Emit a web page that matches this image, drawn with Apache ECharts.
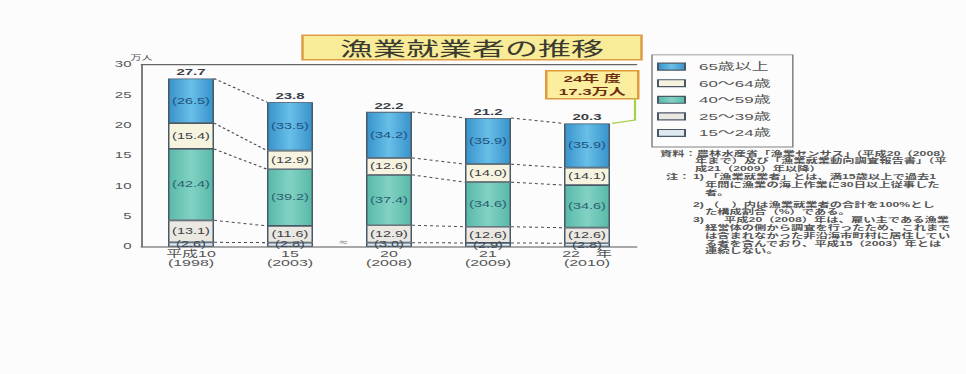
<!DOCTYPE html>
<html>
<head>
<meta charset="utf-8">
<script src="https://cdn.jsdelivr.net/npm/echarts@6/dist/echarts.min.js"></script>
<style>
  html, body { margin: 0; padding: 0; background: #fcfcfc; overflow: hidden; }
  #frame { width: 966px; height: 374px; overflow: hidden; }
  /* the figure is laid out on a taller canvas and compressed vertically */
  #chart { width: 966px; height: 654px; transform: scaleY(0.57187); transform-origin: 0 0; }
</style>
</head>
<body>
<div id="frame"><div id="chart"></div></div>
<script>
// 漁業就業者数（万人）
const years = ['平成10\n(1998)', '15\n(2003)', '20\n(2008)', '21\n(2009)', '22　年\n(2010)'];
const totals = [27.7, 23.8, 22.2, 21.2, 20.3];

// 年齢階層別構成割合（%）
const ageGroups = ['15～24歳', '25～39歳', '40～59歳', '60～64歳', '65歳以上'];
const share15to24 = [2.6, 2.8, 3.0, 2.9, 2.8];
const share25to39 = [13.1, 11.6, 12.9, 12.6, 12.6];
const share40to59 = [42.4, 39.2, 37.4, 34.6, 34.6];
const share60to64 = [15.4, 12.9, 12.6, 14.0, 14.1];
const share65plus = [26.5, 33.5, 34.2, 35.9, 35.9];

// y axis ticks
const yMin = 0;
const yMax = 30;
const yStep = 5;

// 平成15年と20年の間は調査方法が異なるため連続しない
const breakAfter = 1;

// 24年度の値
const forecastLabel = '24年 度';
const forecastValue = 17.3;

const noteLines = [
  '資料：農林水産省「漁業センサス」（平成20（2008）',
  '年まで）及び「漁業就業動向調査報告書」（平',
  '成21（2009）年以降）',
  '注：', '1)', '「漁業就業者」とは、満15歳以上で過去1',
  '年間に漁業の海上作業に30日以上従事した',
  '者。',
  '2)', '（　）内は漁業就業者の合計を100%とし',
  'た構成割合（%）である。',
  '3)', '平成20（2008）年は、雇い主である漁業',
  '経営体の側から調査を行ったため、これまで',
  'は含まれなかった非沿海市町村に居住してい',
  'る者を含んでおり、平成15（2003）年とは',
  '連続しない。'
];

const SY = 1.75;            // vertical stretch of the drawing surface
const HALF_BAR = 23;
const FONT = "'Liberation Sans', 'Noto Sans CJK JP', sans-serif";
const JP = "'Noto Sans CJK JP', sans-serif";

const shares = [share15to24, share25to39, share40to59, share60to64, share65plus];

const fills = [
  '#dfe9f1',
  '#ebe8e2',
  new echarts.graphic.LinearGradient(0, 0, 1, 0, [
    { offset: 0, color: '#58b9a8' }, { offset: 0.5, color: '#82d2c3' }, { offset: 1, color: '#58b9a8' }
  ]),
  '#f6f4df',
  new echarts.graphic.LinearGradient(0, 0, 1, 0, [
    { offset: 0, color: '#3893cc' }, { offset: 0.5, color: '#68bfe7' }, { offset: 1, color: '#3893cc' }
  ])
];
const labelColors = ['#3b4654', '#3b4048', '#2c5e72', '#3b4048', '#21507c'];

// cumulative heights of each segment boundary for every year
const cum = totals.map((t, i) => {
  let s = 0;
  const levels = shares.map(arr => (s += t * arr[i] / 100));
  levels[levels.length - 1] = t;
  return levels;
});

const linkStarts = years.map((_, i) => i).filter(i => i < years.length - 1 && i !== breakAfter);

const barSeries = ageGroups.map((name, k) => ({
  type: 'bar',
  name,
  stack: 'total',
  barWidth: 46,
  data: totals.map((t, i) => +(t * shares[k][i] / 100).toFixed(3)),
  itemStyle: { color: fills[k], borderColor: '#4a5866', borderWidth: 1.5 },
  label: {
    show: true,
    position: 'inside',
    formatter: p => '(' + shares[k][p.dataIndex].toFixed(1) + ')',
    fontFamily: FONT,
    fontSize: 14.5,
    color: labelColors[k]
  },
  emphasis: { disabled: true },
  z: 3
}));

const totalLabelSeries = {
  type: 'custom',
  name: 'totals',
  data: totals.map((t, i) => [i, t]),
  renderItem(params, api) {
    const p = api.coord([api.value(0), api.value(1)]);
    return {
      type: 'text',
      x: p[0], y: p[1] - 3,
      style: {
        text: api.value(1).toFixed(1),
        align: 'center', verticalAlign: 'bottom',
        fontFamily: FONT, fontSize: 15, fontWeight: 'bold', fill: '#3a3e44'
      }
    };
  },
  z: 5
};

const linkSeries = {
  type: 'custom',
  name: 'links',
  data: linkStarts.map(i => [i, 0]),
  renderItem(params, api) {
    const i = api.value(0);
    const children = cum[i].map((lv, k) => {
      const a = api.coord([i, lv]);
      const b = api.coord([i + 1, cum[i + 1][k]]);
      return {
        type: 'line',
        shape: { x1: a[0] + HALF_BAR, y1: a[1], x2: b[0] - HALF_BAR, y2: b[1] },
        style: { stroke: '#4a4f56', lineWidth: 1.8, lineDash: [3, 3] }
      };
    });
    return { type: 'group', children };
  },
  z: 2
};

const breakSeries = {
  type: 'custom',
  name: 'break',
  data: [[breakAfter, 0]],
  renderItem(params, api) {
    const a = api.coord([api.value(0), 0]);
    const b = api.coord([api.value(0) + 1, 0]);
    return {
      type: 'text',
      x: (a[0] + b[0]) / 2 + 4, y: a[1] - 1,
      style: { text: '≈', align: 'center', verticalAlign: 'bottom', fontFamily: FONT, fontSize: 15, fill: '#6a6a6a' }
    };
  },
  z: 4
};

const connectorSeries = {
  type: 'custom',
  name: 'connector',
  data: [[totals.length - 1, totals[totals.length - 1]]],
  renderItem(params, api) {
    const p = api.coord([api.value(0), api.value(1)]);
    return {
      type: 'polyline',
      shape: { points: [[635, 98 * SY], [635, 120 * SY], [p[0] + HALF_BAR + 2, p[1]]] },
      style: { stroke: '#a6d048', lineWidth: 2.2, fill: null }
    };
  },
  z: 4
};

// 注記の配置
const P = 7.8;
const noteLayout = [
  [660, 153],
  [695, 153 + P],
  [695, 153 + 2 * P],
  [666, 153 + 3 * P], [693, 153 + 3 * P], [707, 153 + 3 * P],
  [705, 153 + 4 * P],
  [705, 153 + 5 * P],
  [693, 204], [707, 204],
  [705, 204 + P],
  [693, 204 + 2 * P], [724, 204 + 2 * P],
  [705, 204 + 3 * P],
  [705, 204 + 4 * P],
  [705, 204 + 5 * P],
  [705, 204 + 6 * P]
];
const noteGraphics = noteLines.map((txt, n) => ({
  type: 'text',
  x: noteLayout[n][0],
  y: noteLayout[n][1] * SY,
  style: {
    text: txt, align: 'left', verticalAlign: 'middle',
    fontFamily: FONT, fontSize: 12.3, fontWeight: 'bold', fill: '#555'
  }
}));

const chart = echarts.init(document.getElementById('chart'), null, { renderer: 'svg' });

chart.setOption({
  animation: false,
  backgroundColor: '#fcfcfc',
  title: {
    text: '漁業就業者の推移',
    left: 302, top: 61,
    padding: [5, 38, 5, 38],
    backgroundColor: '#f8ec98',
    borderColor: '#de9c44',
    borderWidth: 2.5,
    textStyle: { fontFamily: JP, fontSize: 33, fontWeight: 'normal', color: '#3b3a30', lineHeight: 34 }
  },
  legend: {
    orient: 'vertical',
    left: 652, top: 96,
    data: ['65歳以上', '60～64歳', '40～59歳', '25～39歳', '15～24歳'],
    selectedMode: false,
    icon: 'rect',
    itemWidth: 27,
    itemHeight: 12,
    itemGap: 12,
    padding: [12, 22, 16, 5],
    borderColor: '#808080',
    borderWidth: 1.5,
    textStyle: { fontFamily: FONT, fontSize: 17, color: '#555', lineHeight: 14, padding: [0, 0, 0, 9] }
  },
  grid: { left: 141.5, right: 329.5, top: 64.5 * SY, bottom: 654 - 246.5 * SY },
  xAxis: [
    {
      type: 'category',
      data: years,
      axisLine: { lineStyle: { color: '#555', width: 2 } },
      axisTick: { show: false },
      axisLabel: { fontFamily: FONT, fontSize: 16, lineHeight: 16, color: '#555', margin: 5, interval: 0 }
    },
    {
      type: 'category',
      position: 'top',
      data: years,
      axisLine: { lineStyle: { color: '#666', width: 1.8 } },
      axisTick: { show: false },
      axisLabel: { show: false }
    }
  ],
  yAxis: {
    type: 'value',
    min: yMin, max: yMax, interval: yStep,
    name: '万人',
    nameLocation: 'end',
    nameGap: 4,
    nameTextStyle: { fontFamily: JP, fontSize: 11, color: '#555', align: 'center', padding: [0, 0, 0, 0] },
    axisLine: { show: true, lineStyle: { color: '#555', width: 1.5 } },
    axisTick: { show: false },
    splitLine: { show: false },
    axisLabel: { fontFamily: FONT, fontSize: 15, color: '#555', margin: 10 }
  },
  graphic: [
    {
      type: 'group',
      left: 545, top: 70 * SY,
      children: [
        { type: 'rect', shape: { x: 0, y: 0, width: 92, height: 28 * SY }, style: { fill: '#fbef9f', stroke: '#e39a3c', lineWidth: 2.5 } },
        {
          type: 'text', x: 46, y: 14 * SY,
          style: {
            text: forecastLabel + '\n' + forecastValue.toFixed(1) + '万人',
            align: 'center', verticalAlign: 'middle',
            fontFamily: FONT, fontSize: 17, lineHeight: 22, fontWeight: 'bold', fill: '#6b2e12'
          }
        }
      ]
    },
    ...noteGraphics
  ],
  series: [...barSeries, linkSeries, totalLabelSeries, breakSeries, connectorSeries]
});
</script>
</body>
</html>
